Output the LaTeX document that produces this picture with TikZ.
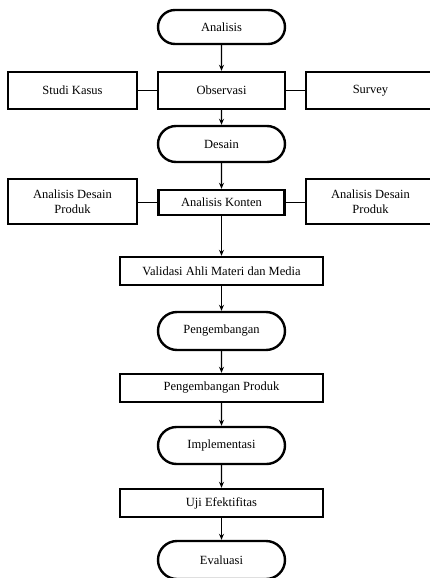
\documentclass[tikz,border=0pt]{standalone}
\usepackage{fontspec}
\setmainfont{Liberation Serif}
\usetikzlibrary{shapes.misc,arrows.meta}
\begin{document}
\begin{tikzpicture}[x=1pt,y=-1pt,
  every node/.style={font=\fontsize{12.5}{14}\selectfont, align=center, inner sep=0pt},
  term/.style={draw, rounded rectangle, line width=2.4pt, minimum width=127pt},
  boxn/.style={draw, rectangle, line width=2.4pt},
  flow/.style={-{Stealth[length=6pt,width=5pt]}, line width=1.1pt},
  link/.style={line width=1.2pt}]
\useasboundingbox (0,0) rectangle (430,578);
\clip (0,0) rectangle (430,578);
\node[term, minimum height=34pt] (ana) at (221.5,27) {Analisis};
\node[boxn, minimum width=127pt, minimum height=37pt] (obs) at (221.5,90.5) {Observasi};
\node[boxn, minimum width=129pt, minimum height=37pt] (stu) at (72.5,90.5) {Studi Kasus};
\node[boxn, minimum width=129pt, minimum height=37pt] (sur) at (370.5,90.5) {Survey};
\node[term, minimum height=36pt] (des) at (221.5,144) {Desain};
\node[boxn, minimum width=126pt, minimum height=25pt] (kon) at (221.5,202.5) {Analisis Konten};
\node[boxn, minimum width=129pt, minimum height=45pt] (adl) at (72.5,201.5) {Analisis Desain\\[1pt]Produk};
\node[boxn, minimum width=129pt, minimum height=45pt] (adr) at (370.5,201.5) {Analisis Desain\\[1pt]Produk};
\node[boxn, minimum width=203pt, minimum height=28pt] (val) at (221.5,271) {Validasi Ahli Materi dan Media};
\node[term, minimum height=38pt] (pen) at (221.5,331) {Pengembangan};
\node[boxn, minimum width=203pt, minimum height=28pt] (pp) at (221.5,388) {Pengembangan Produk};
\node[term, minimum height=37pt] (imp) at (221.5,445.5) {Implementasi};
\node[boxn, minimum width=203pt, minimum height=28pt] (uji) at (221.5,503) {Uji Efektifitas};
\node[term, minimum height=38pt] (eva) at (221.5,560) {Evaluasi};
\draw[flow] (ana) -- (obs);
\draw[flow] (obs) -- (des);
\draw[flow] (des) -- (kon);
\draw[flow] (kon) -- (val);
\draw[flow] (val) -- (pen);
\draw[flow] (pen) -- (pp);
\draw[flow] (pp) -- (imp);
\draw[flow] (imp) -- (uji);
\draw[flow] (uji) -- (eva);
\draw[link] (stu) -- (obs);
\draw[link] (obs) -- (sur);
\draw[link] (adl.east |- kon.west) -- (kon.west);
\draw[link] (kon.east) -- (adr.west |- kon.east);
\end{tikzpicture}
\end{document}
